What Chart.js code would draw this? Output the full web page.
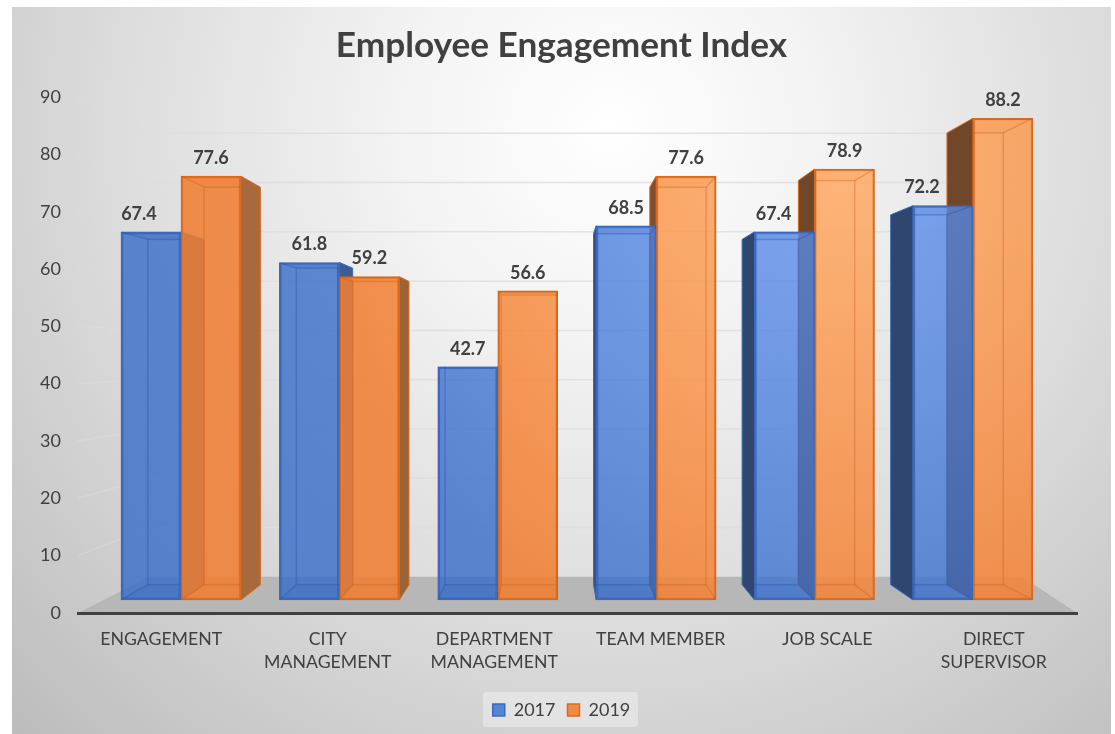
<!DOCTYPE html>
<html>
<head>
<meta charset="utf-8">
<title>Employee Engagement Index</title>
<script src="https://cdn.jsdelivr.net/npm/chart.js@4"></script>
<style>
  html, body { margin: 0; padding: 0; background: #fff; }
  canvas { display: block; }
</style>
</head>
<body>
<canvas id="chart" width="1115" height="734"></canvas>
<script>
const categories = ['ENGAGEMENT', ['CITY', 'MANAGEMENT'], ['DEPARTMENT', 'MANAGEMENT'], 'TEAM MEMBER', 'JOB SCALE', ['DIRECT', 'SUPERVISOR']];
const seriesNames = ['2017', '2019'];
const values2017 = [67.4, 61.8, 42.7, 68.5, 67.4, 72.2];
const values2019 = [77.6, 59.2, 56.6, 77.6, 78.9, 88.2];

// labels the original author dragged sideways so they clear the next bar
const labelNudge = [[-12, 0, 0, 0, -11, -21], [0, 0, 0, 0, 0, 0]];

// the bars are a box in perspective, everything shrinks towards this point
const VP = { x: 554, y: 354 };
const DEPTH = 0.938;
const back = (x, y) => [VP.x + (x - VP.x) * DEPTH, VP.y + (y - VP.y) * DEPTH];

const canvas = document.getElementById('chart');
const g = canvas.getContext('2d');

function radial(x, y, r, stops) {
  const gr = g.createRadialGradient(x, y, 0, x, y, r);
  stops.forEach(([p, c]) => gr.addColorStop(p, c));
  return gr;
}
function sideGradient(from, to) {
  const gr = g.createLinearGradient(300, 0, 750, 0);
  gr.addColorStop(0, from);
  gr.addColorStop(1, to);
  return gr;
}

const frameFill = radial(610, 130, 850, [[0, '#ffffff'], [0.25, '#f3f3f3'], [0.6, '#dbdbdb'], [1, '#bcbcbc']]);
const frontFill = [
  radial(850, 170, 520, [[0, 'rgba(95,145,240,0.78)'], [1, 'rgba(50,105,200,0.78)']]),
  radial(850, 170, 520, [[0, 'rgba(255,172,104,0.87)'], [1, 'rgba(241,126,50,0.87)']]),
];
const sideFill = [sideGradient('#3a5f9a', '#2e4670'), sideGradient('#a86a3c', '#71472a')];
const edgeColor = ['#3d69b8', '#d9691c'];
const faceColor = ['rgba(46,84,160,0.14)', 'rgba(190,90,25,0.14)'];
const innerLine = ['rgba(45,85,165,0.4)', 'rgba(200,95,25,0.35)'];

function poly(ctx, pts) {
  ctx.beginPath();
  pts.forEach(([x, y], i) => (i ? ctx.lineTo(x, y) : ctx.moveTo(x, y)));
  ctx.closePath();
}

function eachBar(chart, fn) {
  chart.data.datasets.forEach((ds, d) => {
    chart.getDatasetMeta(d).data.forEach((el, i) => {
      const { x, y, base, width } = el.getProps(['x', 'y', 'base', 'width'], true);
      fn(d, i, x - width / 2, x + width / 2, y, base, x);
    });
  });
}

const scenePlugin = {
  id: 'scene',
  beforeDraw(chart) {
    const { ctx, chartArea: { left, right, bottom }, scales: { y, yBack } } = chart;
    ctx.save();
    ctx.fillStyle = frameFill;
    ctx.fillRect(12, 7, 1099, 727);

    // floor of the box
    const floorBack = yBack.getPixelForValue(0);
    const wallX = 149, wallXR = 1022;
    ctx.fillStyle = '#b7b7b7';
    poly(ctx, [[left, bottom], [right, bottom], [wallXR, floorBack], [wallX, floorBack]]);
    ctx.fill();

    // gridlines run along the side wall and then the back wall
    ctx.lineWidth = 1.5;
    y.ticks.forEach((t) => {
      if (!t.value) return;
      const py = yBack.getPixelForValue(t.value);
      ctx.strokeStyle = 'rgba(222,222,222,0.5)';
      ctx.beginPath();
      ctx.moveTo(left, y.getPixelForValue(t.value));
      ctx.lineTo(wallX, py);
      ctx.stroke();
      ctx.strokeStyle = 'rgba(222,222,222,0.85)';
      ctx.beginPath();
      ctx.moveTo(wallX, py);
      ctx.lineTo(wallXR, py);
      ctx.stroke();
    });

    // legend plate
    ctx.fillStyle = 'rgba(236,236,236,0.62)';
    ctx.beginPath();
    ctx.roundRect(483, 692, 155, 35, 3);
    ctx.fill();
    ctx.restore();
  },
  beforeDatasetsDraw(chart) {
    const { ctx } = chart;
    ctx.save();
    ctx.lineJoin = 'round';
    eachBar(chart, (d, i, x0, x1, top, base) => {
      const [bx0, btop] = back(x0, top);
      const [bx1, bbase] = back(x1, base);
      ctx.fillStyle = faceColor[d];
      poly(ctx, [[x0, top], [x1, top], [bx1, btop], [bx0, btop]]);
      ctx.fill();
      poly(ctx, [[x0, base], [x1, base], [bx1, bbase], [bx0, bbase]]);
      ctx.fill();

      // only the side facing away from the vanishing point is seen from outside
      ctx.fillStyle = sideFill[d];
      ctx.strokeStyle = edgeColor[d];
      ctx.lineWidth = 1;
      if (bx1 > x1) {
        poly(ctx, [[x1, top], [bx1, btop], [bx1, bbase], [x1, base]]);
        ctx.fill();
        ctx.stroke();
      }
      if (bx0 < x0) {
        poly(ctx, [[x0, top], [bx0, btop], [bx0, bbase], [x0, base]]);
        ctx.fill();
        ctx.stroke();
      }
    });
    ctx.restore();
  },
  afterDatasetsDraw(chart) {
    const { ctx } = chart;
    ctx.save();
    eachBar(chart, (d, i, x0, x1, top, base) => {
      const [bx0, btop] = back(x0, top);
      const [bx1, bbase] = back(x1, base);
      // back edges only show through the bar's own front
      ctx.save();
      ctx.beginPath();
      ctx.rect(x0, top, x1 - x0, base - top);
      ctx.clip();
      ctx.strokeStyle = innerLine[d];
      ctx.lineWidth = 1.5;
      ctx.strokeRect(bx0, btop, bx1 - bx0, bbase - btop);
      [[x0, top, bx0, btop], [x1, top, bx1, btop], [x0, base, bx0, bbase], [x1, base, bx1, bbase]].forEach(([a, b, c, e]) => {
        ctx.beginPath();
        ctx.moveTo(a, b);
        ctx.lineTo(c, e);
        ctx.stroke();
      });
      ctx.restore();
    });

    ctx.font = 'bold 18px Lato';
    ctx.fillStyle = '#404040';
    ctx.textAlign = 'center';
    ctx.textBaseline = 'middle';
    eachBar(chart, (d, i, x0, x1, top, base, cx) => {
      const v = chart.data.datasets[d].data[i].y;
      ctx.fillText(v.toFixed(1), cx + labelNudge[d][i], top - 18);
    });
    ctx.restore();
  },
};

const barData = (values) => values.map((v, i) => ({ x: i, y: v }));

new Chart(canvas, {
  type: 'bar',
  data: {
    labels: categories,
    datasets: [values2017, values2019].map((values, d) => ({
      label: seriesNames[d],
      data: barData(values),
      xAxisID: 'xBars',
      yAxisID: 'yBars',
      backgroundColor: frontFill[d],
      borderColor: edgeColor[d],
      borderWidth: 2,
      borderSkipped: false,
      barThickness: 60,
    })),
  },
  options: {
    responsive: false,
    animation: false,
    layout: { padding: { left: 12, right: 4, top: 0, bottom: 5 } },
    plugins: {
      tooltip: { enabled: false },
      title: {
        display: true,
        text: 'Employee Engagement Index',
        color: '#404040',
        font: { family: 'Lato', weight: 'bold', size: 35.2 },
        padding: { top: 25, bottom: 29.8 },
      },
      legend: {
        position: 'bottom',
        onClick: null,
        labels: {
          color: '#404040',
          font: { family: 'Lato', size: 18 },
          boxWidth: 12,
          boxHeight: 12,
          padding: 12,
          generateLabels: (chart) => chart.data.datasets.map((ds, d) => ({
            text: ds.label,
            fillStyle: ['#5585d5', '#f08a45'][d],
            strokeStyle: edgeColor[d],
            lineWidth: 1.5,
            fontColor: '#404040',
            datasetIndex: d,
          })),
        },
      },
    },
    scales: {
      // what the eye reads: the axis plane in front of the bars
      x: {
        type: 'category',
        offset: true,
        grid: { display: false, drawTicks: false },
        border: { color: '#404040', width: 3 },
        ticks: {
          color: '#404040',
          font: { family: 'Lato', size: 17.7, lineHeight: 1.333 },
          padding: 14,
          maxRotation: 0,
          autoSkip: false,
        },
        afterFit: (s) => { s.height = 76; },
      },
      y: {
        min: 0,
        max: 90,
        grid: { display: false, drawTicks: false },
        border: { display: false },
        ticks: {
          stepSize: 10,
          color: '#404040',
          font: { family: 'Lato', size: 18 },
          padding: 17,
        },
        afterFit: (s) => { s.width = 66; },
      },
      // the bar fronts sit a little behind the axis plane
      xBars: { type: 'linear', display: false, offset: false, min: -0.65, max: 5.657 },
      yBars: { display: false, min: -2.39, max: 92.09 },
      // back wall, also holds the free strip on the right of the plot
      yBack: {
        position: 'right',
        min: -7.33,
        max: 97.35,
        grid: { display: false },
        border: { display: false },
        ticks: { display: false },
        afterFit: (s) => { s.width = 34; },
      },
    },
  },
  plugins: [scenePlugin],
});
</script>
</body>
</html>
